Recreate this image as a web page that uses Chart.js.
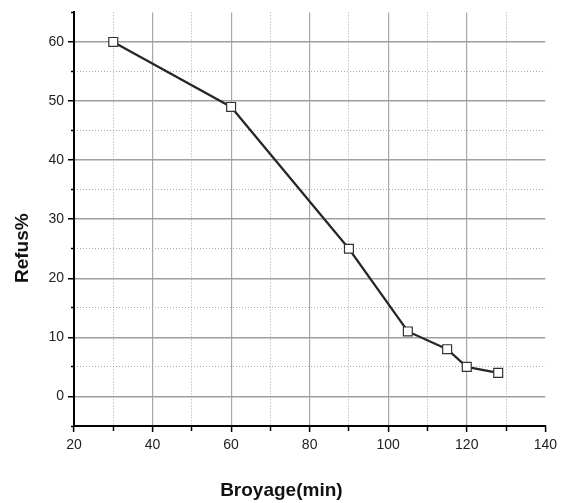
<!DOCTYPE html>
<html>
<head>
<meta charset="utf-8">
<title>Refus% / Broyage</title>
<script src="https://cdn.jsdelivr.net/npm/chart.js@4.4.1/dist/chart.umd.min.js"></script>
<style>
  html, body { margin: 0; padding: 0; background: #fff; }
  #chart { display: block; }
</style>
</head>
<body>
<canvas id="chart" width="562" height="503"></canvas>
<script>
// Refus en fonction du temps de broyage
const broyageMin = [30, 60, 90, 105, 115, 120, 128];
const refusPct   = [60, 49, 25, 11, 8, 5, 4];

// Graduations des axes
const xMajorTicks = [20, 40, 60, 80, 100, 120, 140];
const xMinorTicks = [30, 50, 70, 90, 110, 130];
const yMajorTicks = [0, 10, 20, 30, 40, 50, 60];
const yMinorTicks = [-5, 5, 15, 25, 35, 45, 55, 65];

const X_MIN = 20, X_MAX = 140;
const Y_MIN = -5, Y_MAX = 65;

const FONT = "'Liberation Sans', Arial, Helvetica, sans-serif";

function setTicks(values) {
  return scale => { scale.ticks = values.map(v => ({ value: v })); };
}

// Titres des axes, placés par rapport à la zone du graphique
const axisTitles = {
  id: 'axisTitles',
  afterDraw(chart) {
    const { ctx, chartArea } = chart;
    ctx.save();
    ctx.fillStyle = '#111';
    ctx.font = 'bold 19px ' + FONT;
    ctx.textAlign = 'center';
    ctx.textBaseline = 'middle';
    ctx.fillText('Broyage(min)', chartArea.left + (chartArea.right - chartArea.left) * 0.44, chartArea.bottom + 65);
    ctx.translate(chartArea.left - 51, chartArea.top + (chartArea.bottom - chartArea.top) * 0.57);
    ctx.rotate(-Math.PI / 2);
    ctx.fillText('Refus%', 0, 0);
    ctx.restore();
  }
};

new Chart(document.getElementById('chart'), {
  type: 'line',
  data: {
    datasets: [{
      label: 'Refus%',
      data: broyageMin.map((x, i) => ({ x, y: refusPct[i] })),
      borderColor: '#262626',
      borderWidth: 2.2,
      tension: 0,
      pointStyle: 'rect',
      pointRadius: 6.3,
      pointBackgroundColor: '#fff',
      pointBorderColor: '#333',
      pointBorderWidth: 1.2,
      xAxisID: 'x',
      yAxisID: 'y'
    }]
  },
  options: {
    responsive: false,
    animation: false,
    layout: { padding: { top: 12, right: 11, left: 0, bottom: 0 } },
    plugins: {
      legend: { display: false },
      tooltip: { enabled: false }
    },
    scales: {
      x: {
        type: 'linear',
        position: 'bottom',
        weight: 1,
        min: X_MIN,
        max: X_MAX,
        afterBuildTicks: setTicks(xMajorTicks),
        afterFit: s => { s.height = 77; },
        border: { display: true, color: '#000', width: 2 },
        grid: {
          color: c => (c.tick && (c.tick.value === X_MIN || c.tick.value === X_MAX)) ? 'rgba(0,0,0,0)' : '#a8a8a8',
          lineWidth: 1.2,
          tickColor: '#000',
          tickLength: 6,
          tickWidth: 1.5
        },
        ticks: {
          padding: 5,
          color: '#222',
          font: { family: FONT, size: 14 },
          maxRotation: 0
        }
      },
      xMinor: {
        type: 'linear',
        position: 'bottom',
        weight: 0,
        min: X_MIN,
        max: X_MAX,
        afterBuildTicks: setTicks(xMinorTicks),
        afterFit: s => { s.height = 0; },
        border: { display: false, dash: [1, 2] },
        grid: {
          color: '#aaaaaa',
          lineWidth: 1,
          tickColor: '#000',
          tickLength: 5,
          tickWidth: 1.5,
          tickBorderDash: []
        },
        ticks: { display: false }
      },
      y: {
        type: 'linear',
        position: 'left',
        weight: 1,
        min: Y_MIN,
        max: Y_MAX,
        afterBuildTicks: setTicks(yMajorTicks),
        afterFit: s => { s.width = 74; },
        border: { display: true, color: '#000', width: 2 },
        grid: {
          color: '#a0a0a0',
          lineWidth: 1.5,
          tickColor: '#000',
          tickLength: 6,
          tickWidth: 1.5
        },
        ticks: {
          padding: 4,
          color: '#222',
          font: { family: FONT, size: 14 }
        }
      },
      yMinor: {
        type: 'linear',
        position: 'left',
        weight: 0,
        min: Y_MIN,
        max: Y_MAX,
        afterBuildTicks: setTicks(yMinorTicks),
        afterFit: s => { s.width = 0; },
        border: { display: false, dash: [1, 2] },
        grid: {
          color: c => (c.tick && (c.tick.value === Y_MIN || c.tick.value === Y_MAX)) ? 'rgba(0,0,0,0)' : '#aaaaaa',
          lineWidth: 1,
          tickColor: '#000',
          tickLength: 3,
          tickWidth: 1.5,
          tickBorderDash: []
        },
        ticks: { display: false }
      }
    }
  },
  plugins: [axisTitles]
});
</script>
</body>
</html>
